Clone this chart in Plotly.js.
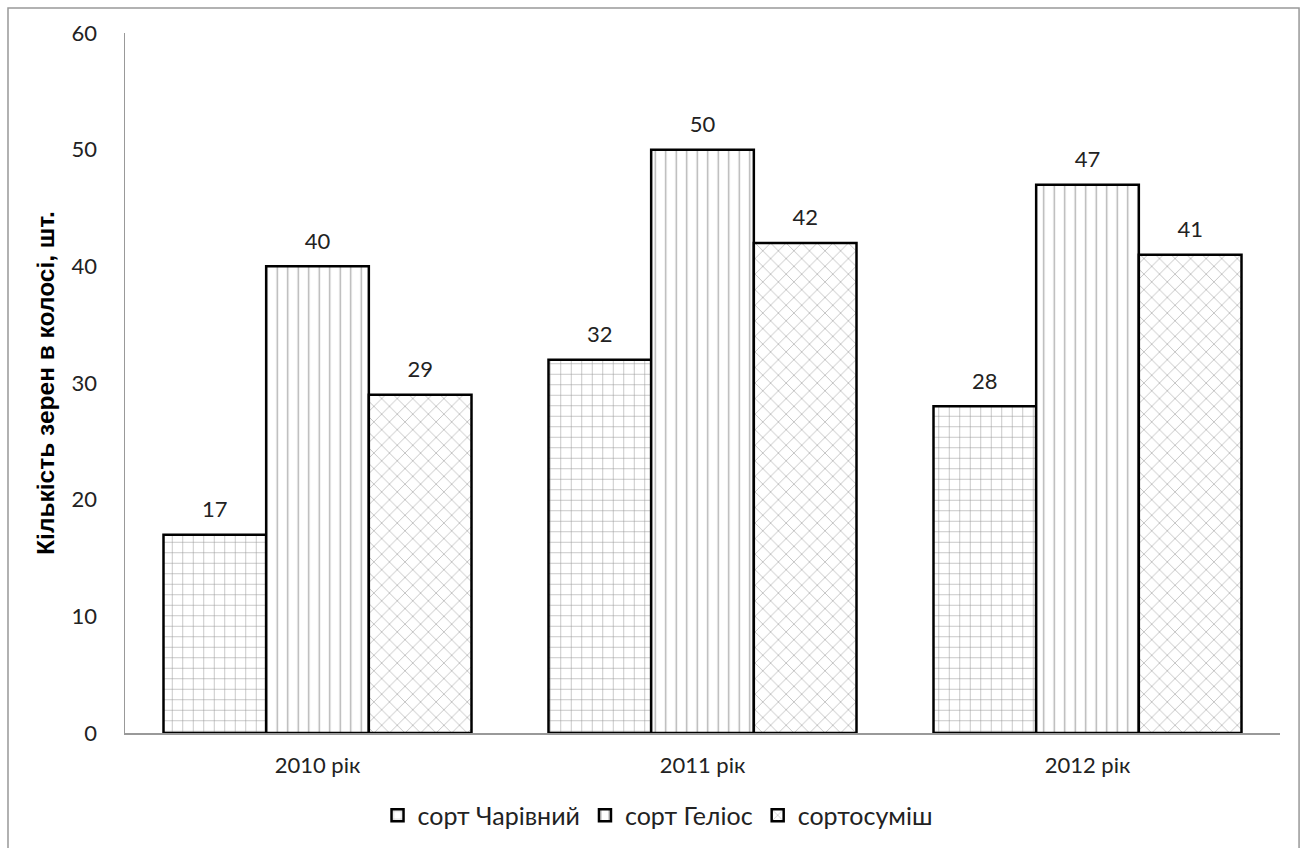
<!DOCTYPE html>
<html>
<head>
<meta charset="utf-8">
<script src="https://cdn.plot.ly/plotly-3.0.1.min.js"></script>
<style>
  html, body { margin: 0; padding: 0; background: #fff; }
  #chart { width: 1306px; height: 848px; }
</style>
</head>
<body>
<div id="chart"></div>
<script>
// Кількість зерен в колосі за роками
const years = ['2010 рік', '2011 рік', '2012 рік'];
const seriesNames = ['сорт Чарівний', 'сорт Геліос', 'сортосуміш'];
const charivnyi = [17, 32, 28];
const helios = [40, 50, 47];
const sortosumish = [29, 42, 41];
const yTicks = [0, 10, 20, 30, 40, 50, 60];

const font = 'Lato, "Open Sans", sans-serif';
const titleFont = '"Liberation Sans", Arial, sans-serif';
const patterns = [
  { shape: '+', size: 10.5, solidity: 0.1, fg: '#9a9a9a' },
  { shape: '|', size: 10.5, solidity: 0.13, fg: '#b0b0b0' },
  { shape: 'x', size: 11, solidity: 0.1, fg: '#9a9a9a' }
];
const allSeries = [charivnyi, helios, sortosumish];

function barTrace(name, values, pat) {
  return {
    type: 'bar',
    name: name,
    x: years,
    y: values,
    marker: {
      color: '#ffffff',
      line: { color: '#000', width: 2.5 },
      pattern: {
        shape: pat.shape,
        size: pat.size,
        solidity: pat.solidity,
        fgcolor: pat.fg,
        bgcolor: '#ffffff',
        fillmode: 'replace'
      }
    }
  };
}

// value labels placed above each bar, grouped the same way as the bars
function labelTrace(values) {
  return {
    type: 'scatter',
    mode: 'markers+text',
    x: years,
    y: values,
    text: values.map(String),
    textposition: 'top center',
    textfont: { family: font, size: 22, color: '#222' },
    marker: { size: 18, opacity: 0 },
    showlegend: false,
    hoverinfo: 'skip',
    cliponaxis: false
  };
}

const data = [
  barTrace(seriesNames[0], charivnyi, patterns[0]),
  barTrace(seriesNames[1], helios, patterns[1]),
  barTrace(seriesNames[2], sortosumish, patterns[2])
].concat(allSeries.map(labelTrace));

const layout = {
  width: 1306,
  height: 848,
  margin: { l: 125, r: 26, t: 33, b: 115, autoexpand: false },
  paper_bgcolor: '#fff',
  plot_bgcolor: '#fff',
  font: { family: font, size: 22, color: '#222' },
  barmode: 'group',
  bargap: 0.2,
  bargroupgap: 0,
  scattermode: 'group',
  scattergap: 0.2,
  showlegend: true,
  legend: {
    orientation: 'h',
    x: 0.4615, xanchor: 'center',
    y: -0.085, yanchor: 'top',
    font: { family: font, size: 25, color: '#222' },
    itemwidth: 30,
    traceorder: 'normal'
  },
  xaxis: {
    showline: true,
    linecolor: '#999',
    linewidth: 1.5,
    ticks: '',
    showgrid: false,
    tickfont: { family: font, size: 22, color: '#222' },
    ticklabelstandoff: 12
  },
  yaxis: {
    range: [0, 60],
    tickvals: yTicks,
    showline: true,
    linecolor: '#999',
    linewidth: 1.5,
    ticks: '',
    showgrid: false,
    zeroline: false,
    tickfont: { family: font, size: 22, color: '#222' },
    ticklabelstandoff: 22,
    title: {
      text: '<b>Кількість зерен в колосі, шт.</b>',
      font: { family: titleFont, size: 24.5, color: '#000' },
      standoff: 10
    }
  },
  shapes: [{
    type: 'rect',
    xref: 'paper', yref: 'paper',
    x0: -0.1013, x1: 1.0165,
    y0: -0.2, y1: 1.0357,
    line: { color: '#999', width: 1.5 },
    fillcolor: 'rgba(0,0,0,0)',
    layer: 'below'
  }]
};

Plotly.newPlot('chart', data, layout, { displayModeBar: false, staticPlot: true });
</script>
</body>
</html>
